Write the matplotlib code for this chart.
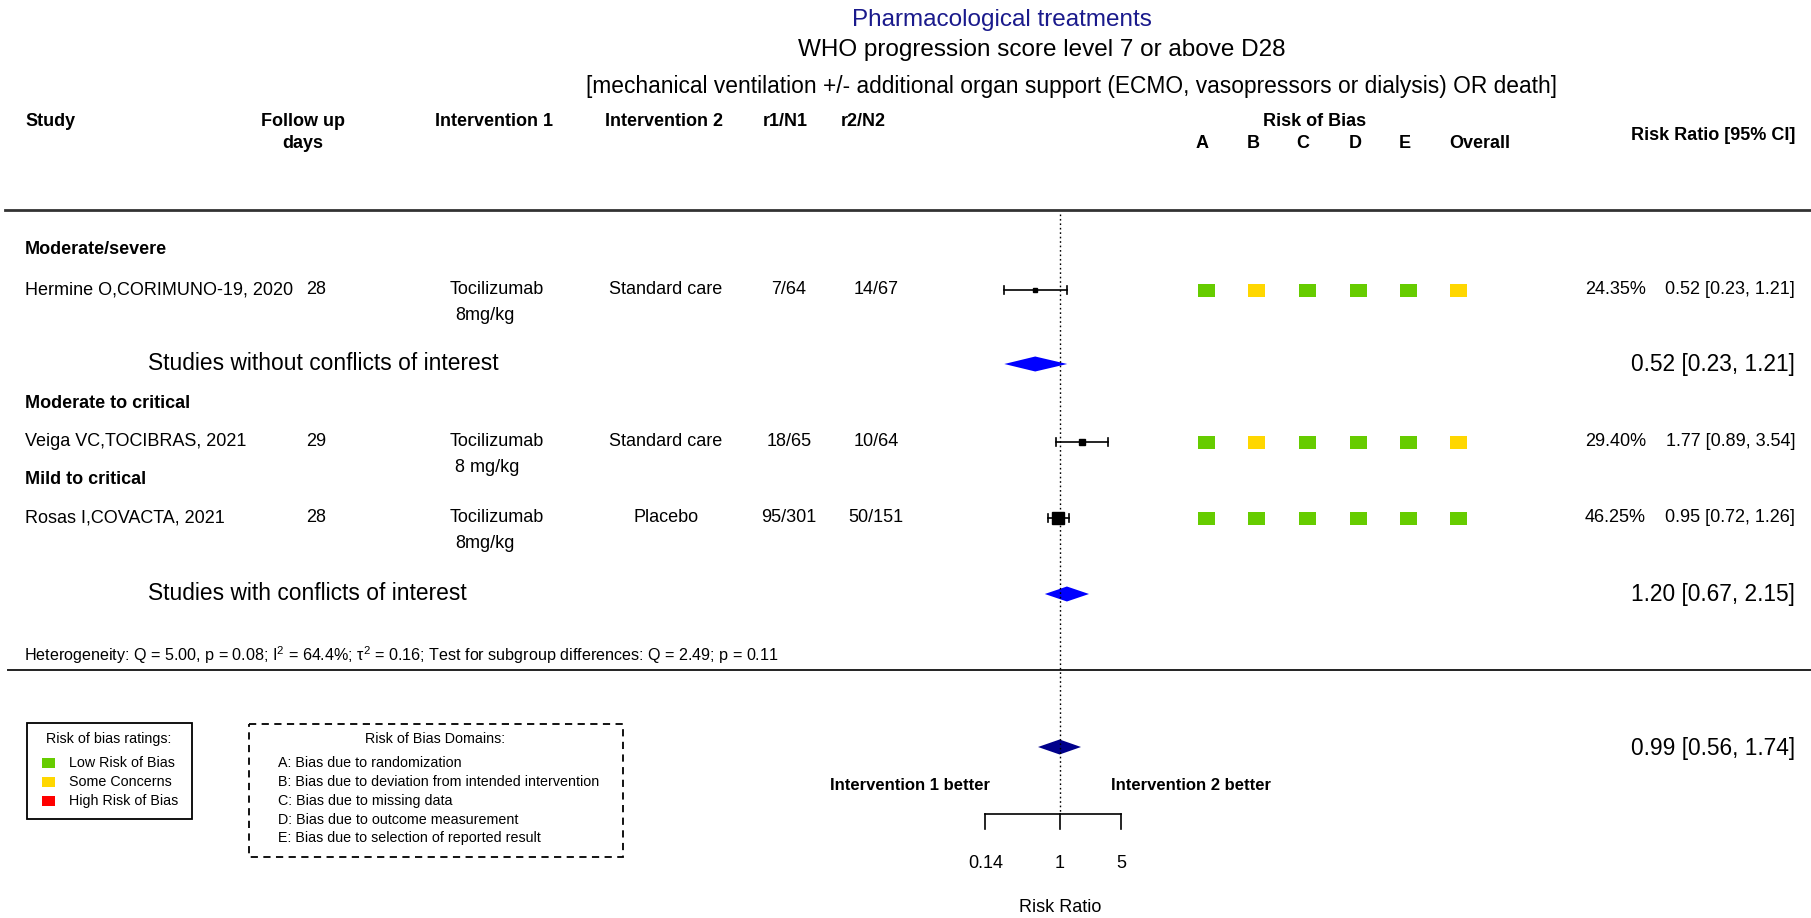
import numpy as np
import matplotlib
matplotlib.use("Agg")
import matplotlib.pyplot as plt
from matplotlib.patches import Rectangle

plt.rcParams['font.family'] = ['Liberation Sans', 'DejaVu Sans']
plt.rcParams['mathtext.fontset'] = 'custom'
plt.rcParams['mathtext.rm'] = 'Liberation Sans'
plt.rcParams['mathtext.it'] = 'Liberation Sans:italic'

# study data
studies = ["Hermine O,CORIMUNO-19, 2020", "Veiga VC,TOCIBRAS, 2021", "Rosas I,COVACTA, 2021"]
subgroups = ["Moderate/severe", "Moderate to critical", "Mild to critical"]
followup = ["28", "29", "28"]
interv1 = ["Tocilizumab", "Tocilizumab", "Tocilizumab"]
dose = ["8mg/kg", "8 mg/kg", "8mg/kg"]
interv2 = ["Standard care", "Standard care", "Placebo"]
r1n1 = ["7/64", "18/65", "95/301"]
r2n2 = ["14/67", "10/64", "50/151"]
rr = [0.52, 1.77, 0.95]
lo = [0.23, 0.89, 0.72]
hi = [1.21, 3.54, 1.26]
weights = [24.35, 29.40, 46.25]
# L = low risk, S = some concerns, H = high risk (domains A-E + overall)
rob = [["L", "S", "L", "L", "L", "S"],
       ["L", "S", "L", "L", "L", "S"],
       ["L", "L", "L", "L", "L", "L"]]

sub_labels = ["Studies without conflicts of interest", "Studies with conflicts of interest"]
sub_rr = [0.52, 1.20]
sub_lo = [0.23, 0.67]
sub_hi = [1.21, 2.15]
ov_rr, ov_lo, ov_hi = 0.99, 0.56, 1.74
het_text = ("Heterogeneity: Q = 5.00, p = 0.08; I$^2$ = 64.4%; \u03c4$^2$ = 0.16; "
            "Test for subgroup differences: Q = 2.49; p = 0.11")
ticks = [0.14, 1, 5]

rob_cols = {"L": "#66CC00", "S": "#FFD700", "H": "#FF0000"}

W, H = 1811, 918
fig = plt.figure(figsize=(W / 100, H / 100), dpi=100)
bg = fig.add_axes([0, 0, 1, 1])
bg.set_xlim(0, W)
bg.set_ylim(H, 0)
bg.axis("off")

# forest panel: log scale, 1 sits at x=1060, 37.9 px per ln unit
px_ln = 37.9
left, right = 960, 1160
ax = fig.add_axes([left / W, 0, (right - left) / W, 1])
ax.set_xscale("log")
ax.set_xlim(np.exp((left - 1060) / px_ln), np.exp((right - 1060) / px_ln))
ax.set_ylim(H, 0)
ax.axis("off")

# titles
bg.text(1002, 20, "Pharmacological treatments", ha="center", va="center", fontsize=17.5, color="#1a1a8c")
bg.text(1042, 50, "WHO progression score level 7 or above D28", ha="center", va="center", fontsize=17.5)
bg.text(1072, 87, "[mechanical ventilation +/- additional organ support (ECMO, vasopressors or dialysis) OR death]",
        ha="center", va="center", fontsize=16.4)

# column headers
hb = dict(fontsize=13, fontweight="bold", va="center")
bg.text(25, 121, "Study", ha="left", **hb)
bg.text(303, 121, "Follow up", ha="center", **hb)
bg.text(303, 143, "days", ha="center", **hb)
bg.text(494, 121, "Intervention 1", ha="center", **hb)
bg.text(664, 121, "Intervention 2", ha="center", **hb)
bg.text(785, 121, "r1/N1", ha="center", **hb)
bg.text(863, 121, "r2/N2", ha="center", **hb)
bg.text(1315, 121, "Risk of Bias", ha="center", **hb)
for x, lab in zip([1202, 1253, 1303, 1355, 1405, 1480], ["A", "B", "C", "D", "E", "Overall"]):
    bg.text(x, 143, lab, ha="center", **hb)
bg.text(1795, 135, "Risk Ratio [95% CI]", ha="right", **hb)

bg.plot([5, W], [210, 210], color="#333333", lw=2)
bg.plot([8, W], [670, 670], color="#222222", lw=1.4)

row_y = [290, 442, 518]
group_y = [250, 403, 479]
sub_y = [364, 594]
ov_y = 747
rob_x = [1206, 1256, 1307, 1358, 1408, 1458]

fs = 13
for i in range(len(studies)):
    y = row_y[i]
    bg.text(25, group_y[i], subgroups[i], ha="left", va="center", fontsize=fs, fontweight="bold")
    bg.text(25, y, studies[i], ha="left", va="center", fontsize=fs)
    bg.text(316, y, followup[i], ha="center", va="center", fontsize=fs)
    bg.text(497, y, interv1[i], ha="center", va="center", fontsize=fs)
    bg.text(455, y + 26, dose[i], ha="left", va="center", fontsize=fs)
    bg.text(666, y, interv2[i], ha="center", va="center", fontsize=fs)
    bg.text(789, y, r1n1[i], ha="center", va="center", fontsize=fs)
    bg.text(876, y, r2n2[i], ha="center", va="center", fontsize=fs)
    bg.text(1646, y, "%.2f%%" % weights[i], ha="right", va="center", fontsize=fs)
    bg.text(1795, y, "%.2f [%.2f, %.2f]" % (rr[i], lo[i], hi[i]), ha="right", va="center", fontsize=fs)

    # CI with end caps, box sized by precision
    ax.plot([lo[i], hi[i]], [y, y], color="black", lw=1.2, clip_on=False)
    for e in (lo[i], hi[i]):
        ax.plot([e, e], [y - 4, y + 4], color="black", lw=1.2, clip_on=False)
    se = (np.log(hi[i]) - np.log(lo[i])) / 3.92
    ax.plot(rr[i], y, marker="s", ms=1.3 / se, color="black", clip_on=False)

    for j, r in enumerate(rob[i]):
        bg.add_patch(Rectangle((rob_x[j] - 8.5, y - 6.5), 17, 13, color=rob_cols[r], lw=0))

# subgroup summaries
for k in range(len(sub_labels)):
    y = sub_y[k]
    bg.text(148, y, sub_labels[k], ha="left", va="center", fontsize=16.4)
    bg.text(1795, y, "%.2f [%.2f, %.2f]" % (sub_rr[k], sub_lo[k], sub_hi[k]),
            ha="right", va="center", fontsize=16.4)
    ax.fill([sub_lo[k], sub_rr[k], sub_hi[k], sub_rr[k]], [y, y - 7.5, y, y + 7.5],
            color="#0000FF", lw=0, clip_on=False)

bg.text(24, 655, het_text, ha="left", va="center", fontsize=11.6)

# overall estimate
ax.fill([ov_lo, ov_rr, ov_hi, ov_rr], [ov_y, ov_y - 7.5, ov_y, ov_y + 7.5],
        color="#00008B", lw=0, clip_on=False)
bg.text(1795, 749, "%.2f [%.2f, %.2f]" % (ov_rr, ov_lo, ov_hi), ha="right", va="center", fontsize=16.4)

# reference line and bottom axis
ax.plot([1, 1], [214, 814], color="black", lw=1, ls=(0, (1.2, 2)), clip_on=False)
ax.plot([ticks[0], ticks[-1]], [814, 814], color="black", lw=1.2, clip_on=False)
for t in ticks:
    ax.plot([t, t], [814, 829], color="black", lw=1.2, clip_on=False)
    ax.text(t, 863, "%g" % t, ha="center", va="center", fontsize=13)
ax.text(1, 908, "Risk Ratio", ha="center", va="center", fontsize=13)
bg.text(910, 785, "Intervention 1 better", ha="center", va="center", fontsize=12, fontweight="bold")
bg.text(1191, 785, "Intervention 2 better", ha="center", va="center", fontsize=12, fontweight="bold")

# legend: ratings
bg.add_patch(Rectangle((27, 723), 165, 96, fill=False, ec="black", lw=1.3))
bg.text(109, 739, "Risk of bias ratings:", ha="center", va="center", fontsize=10.3)
for yy, key, lab in zip([763, 782, 801], ["L", "S", "H"],
                        ["Low Risk of Bias", "Some Concerns", "High Risk of Bias"]):
    bg.add_patch(Rectangle((42, yy - 5), 13, 10, color=rob_cols[key], lw=0))
    bg.text(69, yy, lab, ha="left", va="center", fontsize=10.3)

# legend: domains
bg.add_patch(Rectangle((249, 724), 374, 133, fill=False, ec="black", lw=1.3, ls=(0, (4, 3))))
bg.text(435, 739, "Risk of Bias Domains:", ha="center", va="center", fontsize=10.3)
domains = ["A: Bias due to randomization",
           "B: Bias due to deviation from intended intervention",
           "C: Bias due to missing data",
           "D: Bias due to outcome measurement",
           "E: Bias due to selection of reported result"]
for yy, lab in zip([763, 782, 801, 820, 838], domains):
    bg.text(278, yy, lab, ha="left", va="center", fontsize=10.3)

fig.savefig("out.png", dpi=100)
